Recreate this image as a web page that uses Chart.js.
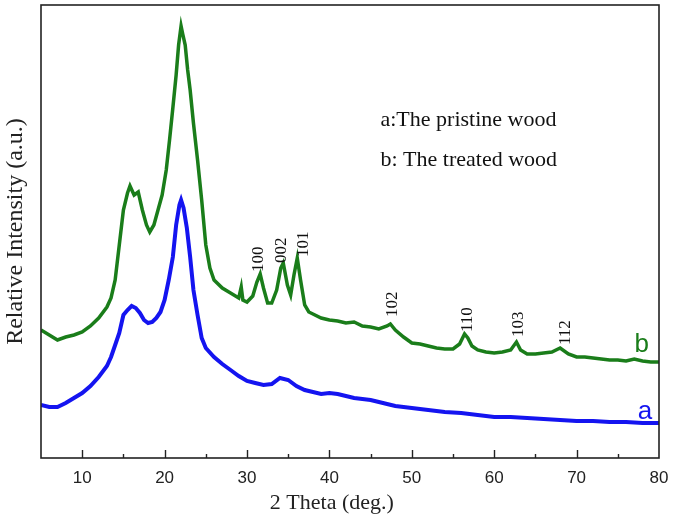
<!DOCTYPE html>
<html>
<head>
<meta charset="utf-8">
<script src="https://cdn.jsdelivr.net/npm/chart.js@4/dist/chart.umd.min.js"></script>
<style>
html, body { margin: 0; padding: 0; background: #fff; }
#wrap { width: 675px; height: 524px; }
</style>
</head>
<body>
<div id="wrap"><canvas id="xrdChart"></canvas></div>
<script>
// b: the treated wood (green)
const twoThetaB = [5, 6, 7, 8, 9, 10, 11, 12, 13, 13.5, 14, 14.5, 15, 15.5, 15.8, 16.3, 16.8, 17.3, 17.8, 18.2,
    18.7, 19.2, 19.7, 20.2, 20.6, 21, 21.4, 21.7, 22, 22.2, 22.5, 22.8, 23.1, 23.5, 24, 24.5, 25, 25.5, 26, 27,
    28, 29, 29.3, 29.5, 30, 30.7, 31.2, 31.6, 32, 32.5, 33, 33.6, 34.1, 34.4, 34.9, 35.3, 35.7, 36.1, 36.5, 37,
    37.5, 38, 39, 40, 41, 42, 43, 44, 45, 46, 47, 47.4, 48, 49, 50, 51, 52, 53, 54, 55,
    55.8, 56.4, 56.8, 57.3, 58, 59, 60, 61, 62, 62.7, 63.2, 64, 65, 66, 67, 68, 69, 70, 71, 72,
    73, 74, 75, 76, 77, 78, 79, 80];
const intensityB = [128, 123, 118, 121, 123, 126, 132, 140, 151, 160, 178, 213, 248, 265, 272, 263, 266, 248, 233, 226,
    233, 248, 263, 288, 318, 350, 383, 413, 432, 424, 413, 388, 368, 335, 298, 258, 213, 190, 178, 170,
    165, 160, 171, 158, 156, 162, 176, 184, 170, 155, 155, 168, 190, 195, 173, 163, 183, 200, 178, 153,
    146, 144, 140, 138, 137, 135, 136, 132, 131, 129, 132, 134, 128, 121, 115, 114, 112, 110, 109, 109,
    114, 124, 120, 112, 108, 106, 105, 106, 108, 116, 108, 104, 104, 105, 106, 110, 104, 101, 101, 100,
    99, 98, 98, 97, 99, 97, 96, 96];

// a: the pristine wood (blue)
const twoThetaA = [5, 6, 7, 8, 9, 10, 11, 12, 13, 13.5, 14, 14.5, 15, 15.5, 16, 16.5, 17, 17.5, 18, 18.5,
    19, 19.5, 20, 20.5, 21, 21.4, 21.8, 22, 22.3, 22.7, 23.1, 23.5, 24, 24.5, 25, 26, 27, 28, 29, 30,
    31, 32, 33, 34, 35, 36, 37, 38, 39, 40, 41, 42, 43, 44, 45, 46, 47, 48, 49, 50,
    52, 54, 56, 58, 60, 62, 64, 66, 68, 70, 72, 74, 76, 78, 80];
const intensityA = [53, 51, 51, 55, 60, 65, 72, 81, 92, 101, 113, 125, 143, 148, 152, 150, 145, 138, 135, 136,
    140, 146, 158, 178, 201, 233, 253, 258, 250, 230, 201, 168, 143, 120, 110, 101, 94, 88, 82, 77,
    75, 73, 74, 80, 78, 72, 68, 66, 64, 65, 64, 62, 60, 59, 58, 56, 54, 52, 51, 50,
    48, 46, 45, 43, 41, 41, 40, 39, 38, 37, 37, 36, 36, 35, 35];

const xTickValues = [10, 20, 30, 40, 50, 60, 70, 80];

// Miller indices written above the peaks of curve b
const peakLabels = ['100', '002', '101', '102', '110', '103', '112'];
const peakLabelX = [31.45, 34.2, 36.85, 47.65, 56.75, 62.95, 68.6];
const peakLabelY = [186, 195, 201, 141, 126, 121, 113];

const legendLines = ['a:The pristine wood', 'b: The treated wood'];
const curveNames = ['a', 'b'];

const green = '#1a7d1a';
const blue = '#1414f0';
const serif = "'Liberation Serif', 'Times New Roman', serif";
const sans = "'Liberation Sans', Arial, sans-serif";

const annotations = {
    id: 'annotations',
    afterDraw(chart) {
        const { ctx, chartArea: area, scales: { x, y } } = chart;
        ctx.save();

        // frame round the plot
        ctx.strokeStyle = '#222';
        ctx.lineWidth = 1.6;
        ctx.strokeRect(area.left, area.top, area.right - area.left, area.bottom - area.top);

        // inward tick marks on the bottom axis
        ctx.lineWidth = 1.4;
        x.ticks.forEach(t => {
            if (t.value <= x.min || t.value >= x.max) return;
            const px = Math.round(x.getPixelForValue(t.value)) + 0.5;
            const len = t.value % 10 === 0 ? 8 : 4;
            ctx.beginPath();
            ctx.moveTo(px, area.bottom);
            ctx.lineTo(px, area.bottom - len);
            ctx.stroke();
        });

        // x axis title, sits a little left of the centre in the original
        ctx.fillStyle = '#222';
        ctx.font = '22px ' + serif;
        ctx.textAlign = 'center';
        ctx.textBaseline = 'middle';
        ctx.fillText('2 Theta (deg.)', x.getPixelForValue(40.3), area.bottom + 45);

        // peak labels, rotated
        ctx.fillStyle = '#111';
        ctx.font = '17px ' + serif;
        ctx.textAlign = 'left';
        peakLabels.forEach((label, i) => {
            ctx.save();
            ctx.translate(x.getPixelForValue(peakLabelX[i]), y.getPixelForValue(peakLabelY[i]));
            ctx.rotate(-Math.PI / 2);
            ctx.fillText(label, 0, 0);
            ctx.restore();
        });

        // legend text
        ctx.font = '22px ' + serif;
        ctx.fillStyle = '#111';
        ctx.fillText(legendLines[0], x.getPixelForValue(46.2), y.getPixelForValue(338));
        ctx.fillText(legendLines[1], x.getPixelForValue(46.2), y.getPixelForValue(298));

        // curve names at the right end
        ctx.font = '26px ' + sans;
        ctx.textAlign = 'center';
        ctx.fillStyle = blue;
        ctx.fillText(curveNames[0], x.getPixelForValue(78.3), y.getPixelForValue(46));
        ctx.fillStyle = green;
        ctx.fillText(curveNames[1], x.getPixelForValue(77.9), y.getPixelForValue(113));

        ctx.restore();
    }
};

const ctx = document.getElementById('xrdChart').getContext('2d');

const xrdChart = new Chart(ctx, {
    type: 'line',
    data: {
        datasets: [{
            label: 'b',
            data: twoThetaB.map((v, i) => ({ x: v, y: intensityB[i] })),
            borderColor: green,
            borderWidth: 3.5,
            pointRadius: 0,
            tension: 0
        }, {
            label: 'a',
            data: twoThetaA.map((v, i) => ({ x: v, y: intensityA[i] })),
            borderColor: blue,
            borderWidth: 4,
            pointRadius: 0,
            tension: 0
        }]
    },
    options: {
        responsive: true,
        maintainAspectRatio: false,
        animation: false,
        layout: { padding: { top: 5, right: 16, left: 0, bottom: 0 } },
        plugins: {
            legend: { display: false },
            tooltip: { enabled: false }
        },
        scales: {
            x: {
                type: 'linear',
                min: 5,
                max: 80,
                grid: { display: false },
                border: { display: false },
                afterFit: scale => { scale.height = 66; },
                ticks: {
                    stepSize: 5,
                    padding: 2,
                    color: '#222',
                    font: { family: sans, size: 17 },
                    maxRotation: 0,
                    callback: v => xTickValues.includes(v) ? v : ''
                }
            },
            y: {
                min: 0,
                max: 453,
                grid: { display: false },
                border: { display: false },
                afterFit: scale => { scale.width = 41; },
                ticks: { display: false },
                title: {
                    display: true,
                    text: 'Relative Intensity (a.u.)',
                    color: '#222',
                    font: { family: serif, size: 24 },
                    padding: { top: 1, bottom: 0 }
                }
            }
        }
    },
    plugins: [annotations]
});
</script>
</body>
</html>
